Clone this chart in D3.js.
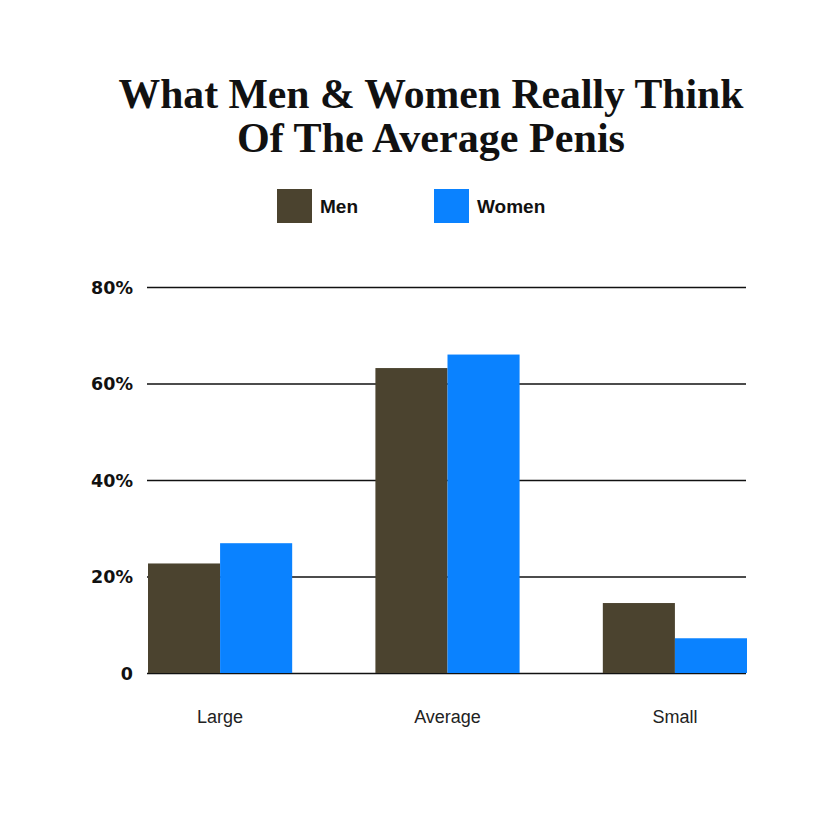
<!DOCTYPE html>
<html>
<head>
<meta charset="utf-8">
<script src="https://cdn.jsdelivr.net/npm/d3@7"></script>
<style>
  html, body { margin: 0; padding: 0; background: #fff; }
  svg { display: block; }
</style>
</head>
<body>
<svg id="chart" width="828" height="828"></svg>
<script>
const categories = ["Large", "Average", "Small"];
const seriesNames = ["Men", "Women"];
const menValues = [22.7, 63.2, 14.5];
const womenValues = [26.9, 66.0, 7.2];
const yTicks = [0, 20, 40, 60, 80];
const yTickLabels = ["0", "20%", "40%", "60%", "80%"];
const titleLines = ["What Men & Women Really Think", "Of The Average Penis"];
const colors = ["#4b432f", "#0a82ff"];

const svg = d3.select("#chart");
svg.append("rect").attr("width", 828).attr("height", 828).attr("fill", "#fff");

const x0 = d3.scaleBand().domain(categories).range([148, 747]).paddingInner(0.366).paddingOuter(0);
const x1 = d3.scaleBand().domain(seriesNames).range([0, x0.bandwidth()]).padding(0);
const y = d3.scaleLinear().domain([0, 80]).range([673, 287]);

// Title
const titleSizes = [625, 388];
svg.append("g").selectAll("text").data(titleLines).join("text")
  .attr("x", 431)
  .attr("y", (d, i) => 107.5 + i * 44.3)
  .attr("text-anchor", "middle")
  .attr("font-family", "'Liberation Serif', 'Times New Roman', serif")
  .attr("font-weight", "bold")
  .attr("font-size", 41.5)
  .attr("fill", "#111")
  .attr("textLength", (d, i) => titleSizes[i])
  .attr("lengthAdjust", "spacingAndGlyphs")
  .text(d => d);

// Legend
const legendX = [277, 434];
const legend = svg.append("g").selectAll("g").data(seriesNames).join("g")
  .attr("transform", (d, i) => `translate(${legendX[i]},189)`);
legend.append("rect").attr("width", 35).attr("height", 34).attr("fill", (d, i) => colors[i]);
legend.append("text")
  .attr("x", 43).attr("y", 24.3)
  .attr("font-family", "'Liberation Sans', Arial, sans-serif")
  .attr("font-weight", "bold")
  .attr("font-size", 19)
  .attr("fill", "#111")
  .text(d => d);

// Gridlines and y labels via axis
const yAxis = d3.axisLeft(y).tickValues(yTicks)
  .tickSize(-(747 - 148))
  .tickFormat((d, i) => yTickLabels[i]);
const gy = svg.append("g").attr("transform", "translate(147,0)").call(yAxis);
gy.select(".domain").remove();
gy.selectAll(".tick line").attr("stroke", "#111").attr("stroke-width", 1.5);
gy.selectAll(".tick text")
  .attr("x", -14)
  .attr("dy", "0.36em")
  .attr("font-family", "'DejaVu Sans', sans-serif")
  .attr("font-weight", "bold")
  .attr("font-size", 17.5)
  .attr("fill", "#111");

// Bars
const data = categories.map((c, i) => ({ cat: c, vals: [menValues[i], womenValues[i]] }));
const groups = svg.append("g").selectAll("g").data(data).join("g")
  .attr("transform", d => `translate(${x0(d.cat)},0)`);
groups.selectAll("rect").data(d => d.vals.map((v, i) => ({ key: seriesNames[i], v, i }))).join("rect")
  .attr("x", d => x1(d.key))
  .attr("width", x1.bandwidth())
  .attr("y", d => y(d.v))
  .attr("height", d => y(0) - y(d.v))
  .attr("fill", d => colors[d.i]);

// Category labels
const xAxis = d3.axisBottom(x0).tickSize(0).tickPadding(0);
const gx = svg.append("g").attr("transform", "translate(0,673)").call(xAxis);
gx.select(".domain").remove();
gx.selectAll(".tick text")
  .attr("y", 49.5)
  .attr("dy", 0)
  .attr("font-family", "'Liberation Sans', Arial, sans-serif")
  .attr("font-size", 18)
  .attr("fill", "#222");
</script>
</body>
</html>
